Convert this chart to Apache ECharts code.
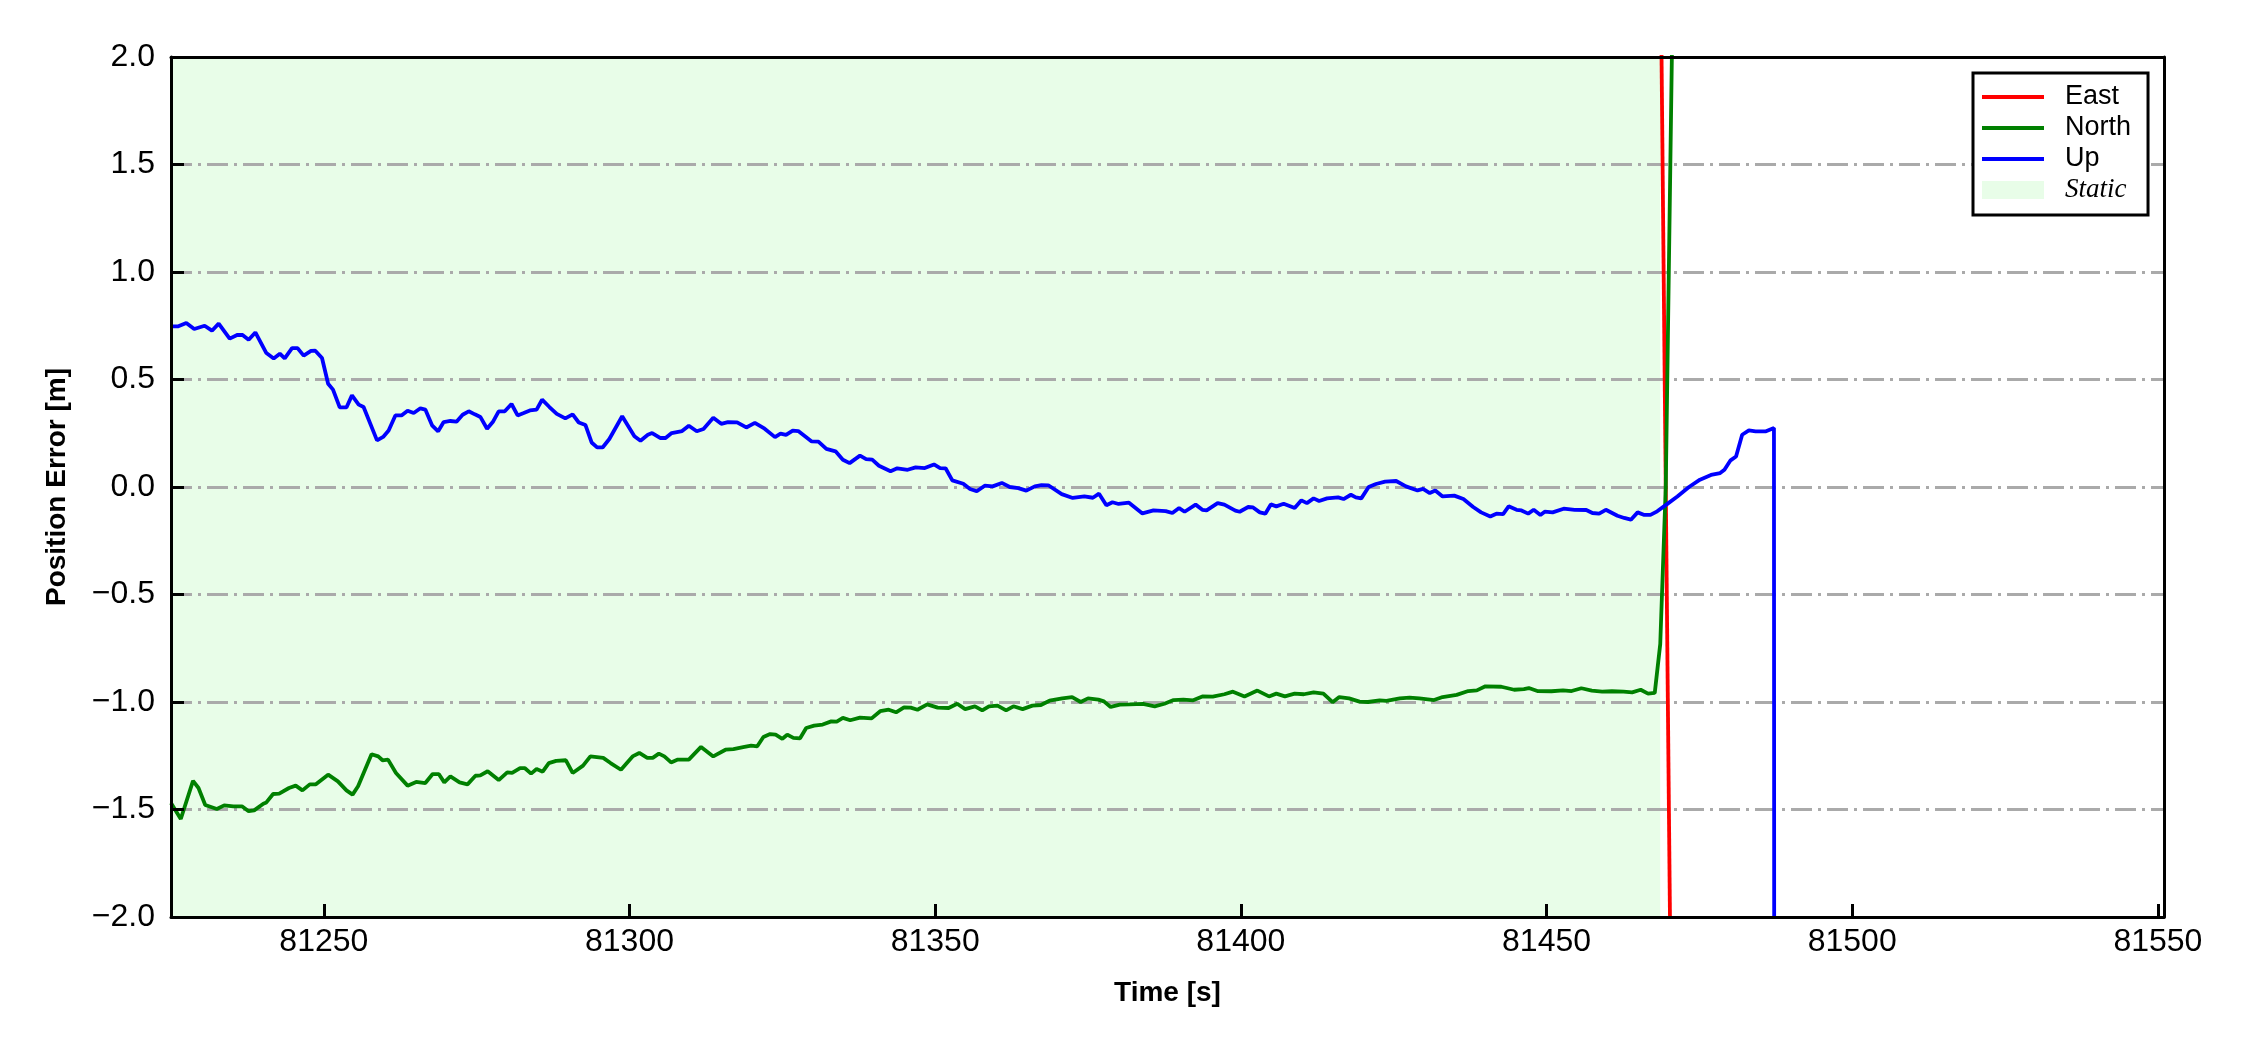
<!DOCTYPE html>
<html>
<head>
<meta charset="utf-8">
<script src="https://cdn.jsdelivr.net/npm/echarts@6/dist/echarts.min.js"></script>
<style>
html,body{margin:0;padding:0;background:#fff;}
#chart{width:2250px;height:1050px;}
</style>
</head>
<body>
<div id="chart"></div>
<script>
// ---------------- data ----------------
const xRange = [81225, 81551];
const yRange = [-2, 2];
const xTicks = [81250, 81300, 81350, 81400, 81450, 81500, 81550];
const staticRange = [81225, 81468.6];

const eastTime = [81468.5, 81470.5];
const eastError = [2.9, -2.9];

const northTime = [81225.0,81226.6,81228.6,81229.5,81230.6,81232.5,81233.7,81235.2,81236.6,81237.7,81238.6,81240.1,81240.6,81241.7,81242.7,81244.3,81245.4,81246.5,81247.7,81248.7,81250.7,81252.3,81253.7,81254.7,81255.6,81257.8,81258.9,81259.6,81260.5,81261.8,81263.7,81265.1,81266.6,81267.8,81268.8,81269.7,81270.7,81272.2,81273.5,81274.8,81275.6,81276.8,81278.6,81280.0,81280.8,81282.1,81282.9,81283.9,81284.8,81285.8,81286.8,81288.0,81289.6,81290.7,81292.4,81293.6,81295.7,81296.9,81298.6,81300.5,81301.6,81302.9,81303.8,81304.8,81305.7,81306.8,81307.9,81309.7,81311.7,81313.7,81315.7,81317.0,81318.8,81319.9,81320.9,81321.9,81323.0,81323.9,81325.0,81325.8,81326.8,81327.9,81328.9,81330.2,81331.6,81333.0,81333.9,81334.9,81336.1,81337.7,81339.6,81341.0,81342.4,81343.6,81344.9,81346.0,81347.1,81348.7,81350.4,81352.2,81353.6,81354.9,81356.5,81357.7,81358.8,81360.2,81361.6,81362.8,81364.3,81365.9,81367.3,81368.7,81370.8,81372.4,81373.8,81375.0,81376.7,81377.6,81378.7,81380.2,81381.8,81384.0,81385.9,81387.5,81389.0,81390.6,81392.2,81393.7,81395.4,81397.3,81398.7,81400.6,81402.7,81404.6,81405.8,81407.2,81408.8,81410.3,81411.9,81413.5,81415.0,81416.1,81417.7,81419.4,81420.8,81422.7,81423.8,81426.0,81427.6,81429.2,81431.6,81433.0,81435.3,81437.2,81438.6,81440.0,81442.6,81444.7,81446.3,81447.1,81448.5,81450.8,81452.7,81454.1,81455.7,81457.4,81459.1,81460.7,81462.6,81464.0,81465.4,81466.6,81467.7,81468.6,81469.5,81470.6,81471.5];
const northError = [-1.470,-1.544,-1.367,-1.400,-1.479,-1.498,-1.481,-1.485,-1.485,-1.508,-1.504,-1.473,-1.467,-1.428,-1.426,-1.400,-1.389,-1.411,-1.383,-1.383,-1.338,-1.369,-1.411,-1.431,-1.392,-1.243,-1.253,-1.271,-1.268,-1.330,-1.389,-1.372,-1.377,-1.335,-1.335,-1.374,-1.346,-1.374,-1.383,-1.343,-1.341,-1.322,-1.363,-1.327,-1.330,-1.308,-1.308,-1.333,-1.312,-1.324,-1.284,-1.274,-1.271,-1.330,-1.296,-1.253,-1.260,-1.284,-1.315,-1.253,-1.237,-1.260,-1.260,-1.240,-1.253,-1.281,-1.268,-1.268,-1.209,-1.253,-1.222,-1.219,-1.209,-1.203,-1.206,-1.163,-1.149,-1.152,-1.171,-1.152,-1.167,-1.169,-1.121,-1.110,-1.105,-1.090,-1.091,-1.074,-1.085,-1.073,-1.076,-1.043,-1.036,-1.048,-1.025,-1.026,-1.036,-1.011,-1.026,-1.028,-1.008,-1.033,-1.020,-1.039,-1.020,-1.017,-1.039,-1.020,-1.033,-1.017,-1.014,-0.994,-0.983,-0.977,-1.000,-0.983,-0.989,-0.997,-1.023,-1.012,-1.011,-1.009,-1.020,-1.008,-0.991,-0.989,-0.992,-0.974,-0.975,-0.964,-0.952,-0.974,-0.947,-0.974,-0.961,-0.974,-0.961,-0.964,-0.955,-0.961,-1.001,-0.977,-0.983,-0.998,-1.000,-0.992,-0.995,-0.983,-0.980,-0.983,-0.991,-0.977,-0.967,-0.949,-0.946,-0.927,-0.929,-0.943,-0.940,-0.935,-0.949,-0.950,-0.946,-0.949,-0.936,-0.947,-0.952,-0.950,-0.952,-0.955,-0.943,-0.961,-0.958,-0.730,0.000,2.200,4.000];

const upTime = [81225.0,81226.1,81227.5,81228.8,81230.5,81231.7,81232.8,81234.6,81235.9,81236.7,81237.7,81238.8,81240.6,81241.8,81242.8,81243.6,81244.8,81245.7,81246.7,81247.9,81248.6,81249.7,81250.7,81251.5,81252.6,81253.7,81254.6,81255.7,81256.5,81258.7,81259.7,81260.6,81261.7,81262.7,81263.7,81264.7,81265.8,81266.6,81267.7,81268.7,81269.6,81270.7,81271.7,81272.7,81273.7,81274.7,81275.6,81276.7,81277.7,81278.6,81279.6,81280.7,81281.7,81282.7,81283.7,81284.8,81285.7,81286.9,81288.1,81289.5,81290.7,81291.7,81292.8,81293.8,81294.7,81295.6,81296.7,81298.8,81300.8,81301.8,81303.0,81303.7,81305.0,81305.9,81306.9,81308.6,81309.7,81311.0,81312.1,81313.7,81315.0,81316.1,81317.6,81319.1,81320.5,81322.1,81323.8,81324.7,81325.6,81326.7,81327.6,81329.8,81330.9,81332.2,81333.7,81334.9,81336.0,81337.7,81338.7,81339.7,81340.8,81342.7,81343.8,81345.5,81346.8,81348.3,81349.8,81350.8,81351.7,81352.8,81354.6,81355.7,81356.8,81358.1,81359.4,81360.9,81362.2,81363.6,81364.9,81366.3,81367.4,81368.5,81370.7,81372.5,81374.4,81375.8,81376.8,81378.0,81379.0,81380.0,81381.7,81383.9,81385.7,81387.7,81388.8,81389.9,81390.8,81392.6,81393.7,81394.4,81396.2,81397.3,81399.1,81399.8,81401.2,81402.0,81403.1,81404.0,81404.9,81405.8,81407.0,81408.8,81409.9,81410.8,81411.9,81412.8,81414.1,81415.9,81416.8,81418.0,81418.8,81419.7,81420.9,81422.1,81423.6,81425.4,81427.0,81428.9,81429.8,81430.9,81431.8,81433.0,81434.9,81436.4,81438.0,81439.3,81440.8,81441.8,81442.9,81443.8,81445.1,81445.9,81447.0,81447.9,81449.0,81449.7,81451.0,81452.8,81454.6,81456.5,81457.5,81458.6,81459.7,81461.6,81462.7,81463.8,81464.9,81466.0,81467.0,81468.1,81469.6,81471.4,81473.3,81475.1,81476.9,81478.4,81479.1,81480.1,81481.0,81482.0,81483.1,81484.2,81485.9,81487.2,81487.3];
const upError = [0.747,0.747,0.763,0.735,0.750,0.727,0.760,0.690,0.708,0.707,0.685,0.719,0.623,0.598,0.620,0.598,0.646,0.646,0.611,0.633,0.634,0.600,0.480,0.453,0.370,0.370,0.426,0.383,0.372,0.217,0.233,0.263,0.333,0.333,0.355,0.344,0.366,0.360,0.287,0.259,0.302,0.307,0.304,0.336,0.352,0.338,0.326,0.271,0.305,0.352,0.352,0.386,0.333,0.344,0.356,0.360,0.406,0.372,0.340,0.319,0.338,0.300,0.288,0.207,0.184,0.184,0.223,0.329,0.236,0.215,0.243,0.251,0.228,0.228,0.251,0.260,0.285,0.259,0.270,0.322,0.294,0.302,0.301,0.277,0.298,0.271,0.232,0.248,0.242,0.262,0.260,0.212,0.211,0.177,0.166,0.127,0.111,0.146,0.130,0.127,0.099,0.073,0.087,0.080,0.091,0.088,0.105,0.088,0.087,0.031,0.015,-0.009,-0.020,0.006,0.003,0.019,0.000,-0.005,-0.017,0.003,0.009,0.008,-0.033,-0.051,-0.044,-0.050,-0.031,-0.085,-0.071,-0.079,-0.073,-0.123,-0.109,-0.112,-0.121,-0.098,-0.115,-0.082,-0.106,-0.109,-0.075,-0.082,-0.110,-0.115,-0.093,-0.095,-0.118,-0.124,-0.081,-0.090,-0.078,-0.098,-0.062,-0.075,-0.053,-0.065,-0.053,-0.048,-0.056,-0.036,-0.048,-0.053,0.000,0.014,0.025,0.028,0.003,-0.016,-0.009,-0.028,-0.016,-0.044,-0.040,-0.056,-0.093,-0.118,-0.137,-0.124,-0.126,-0.090,-0.106,-0.109,-0.124,-0.106,-0.130,-0.115,-0.118,-0.101,-0.106,-0.107,-0.121,-0.124,-0.106,-0.134,-0.144,-0.152,-0.118,-0.130,-0.130,-0.113,-0.082,-0.044,0.000,0.034,0.056,0.065,0.080,0.124,0.142,0.243,0.263,0.259,0.259,0.274,-6.000];

const seriesNames = ['East', 'North', 'Up', 'Static'];
const seriesColors = ['#ff0000', '#008000', '#0000ff', '#e8fde8'];

// ---------------- chart ----------------
const zip = (t, v) => t.map((x, i) => [x, v[i]]);
const FONT = '"Liberation Sans", Arial, Helvetica, sans-serif';
const minus = s => s.replace(/-/g, '\u2212');
const LINE_W = 3.8;

const frameLine = { show: true, onZero: false, lineStyle: { color: '#000', width: 3 } };
const tickStyle = { show: true, inside: true, length: 13, lineStyle: { color: '#000', width: 3 } };

const chart = echarts.init(document.getElementById('chart'), null, { renderer: 'canvas' });

const lineSeries = (idx, data) => ({
  name: seriesNames[idx],
  type: 'line',
  data: data,
  xAxisIndex: 0, yAxisIndex: 0,
  showSymbol: false, symbol: 'none',
  clip: true,
  z: 3,
  color: seriesColors[idx],
  lineStyle: { color: seriesColors[idx], width: LINE_W },
  emphasis: { disabled: true },
  animation: false
});

const lineIcon = 'path://M0,0 L62,0 L62,' + LINE_W + ' L0,' + LINE_W + ' Z';

chart.setOption({
  animation: false,
  backgroundColor: '#ffffff',
  grid: { left: 171, right: 86, top: 57, bottom: 133, containLabel: false },
  xAxis: [
    {
      type: 'value', position: 'bottom', min: xRange[0], max: xRange[1], z: 5,
      axisLine: frameLine,
      axisTick: Object.assign({ customValues: xTicks }, tickStyle),
      axisLabel: { customValues: xTicks, formatter: v => String(v), color: '#000', fontFamily: FONT, fontSize: 32, margin: 9 },
      splitLine: { show: false },
      name: 'Time [s]', nameLocation: 'middle', nameGap: 62,
      nameTextStyle: { color: '#000', fontFamily: FONT, fontSize: 28, fontWeight: 'bold' }
    },
    {
      type: 'value', position: 'top', min: xRange[0], max: xRange[1], z: 5,
      axisLine: frameLine, axisTick: { show: false }, axisLabel: { show: false }, splitLine: { show: false }
    }
  ],
  yAxis: [
    {
      type: 'value', position: 'left', min: yRange[0], max: yRange[1], interval: 0.5, z: 5,
      axisLine: frameLine,
      axisTick: tickStyle,
      axisLabel: { formatter: v => minus(v.toFixed(1)), color: '#000', fontFamily: FONT, fontSize: 32, margin: 16 },
      splitLine: { show: false },
      name: 'Position Error [m]', nameLocation: 'middle', nameGap: 100,
      nameTextStyle: { color: '#000', fontFamily: FONT, fontSize: 28, fontWeight: 'bold' }
    },
    {
      type: 'value', position: 'right', min: yRange[0], max: yRange[1], interval: 0.5, z: 5,
      axisLine: frameLine, axisTick: { show: false }, axisLabel: { show: false }, splitLine: { show: false }
    },
    {
      type: 'value', position: 'right', min: yRange[0], max: yRange[1], interval: 0.5, z: 2.5,
      axisLine: { show: false }, axisTick: { show: false }, axisLabel: { show: false },
      splitLine: { show: true, lineStyle: { color: '#aaaaaa', width: 3, type: [21, 6, 3, 6] } }
    }
  ],
  legend: {
    orient: 'vertical',
    left: 1973, top: 73,
    padding: [10, 17, 11, 9],
    itemWidth: 62, itemHeight: 18, itemGap: 3,
    backgroundColor: '#ffffff',
    borderColor: '#000', borderWidth: 3, borderRadius: 0,
    selectedMode: false,
    z: 8,
    textStyle: { color: '#000', fontFamily: FONT, fontSize: 27, lineHeight: 28, padding: [0, 0, 0, 16] },
    data: [
      { name: seriesNames[0], icon: lineIcon, itemStyle: { color: seriesColors[0] } },
      { name: seriesNames[1], icon: lineIcon, itemStyle: { color: seriesColors[1] } },
      { name: seriesNames[2], icon: lineIcon, itemStyle: { color: seriesColors[2] } },
      { name: seriesNames[3], icon: 'rect', itemStyle: { color: seriesColors[3] },
        textStyle: { fontFamily: '"Liberation Serif", "Times New Roman", serif', fontStyle: 'italic', fontSize: 27, color: '#000' } }
    ]
  },
  series: [
    {
      name: seriesNames[3], type: 'line', data: [], xAxisIndex: 0, yAxisIndex: 0,
      z: 1, color: seriesColors[3], itemStyle: { color: seriesColors[3] }, lineStyle: { width: 0 },
      showSymbol: false, symbol: 'none', silent: true,
      markArea: {
        silent: true, z: 1,
        itemStyle: { color: seriesColors[3], opacity: 1 },
        label: { show: false },
        data: [[{ xAxis: staticRange[0] }, { xAxis: staticRange[1] }]]
      }
    },
    lineSeries(0, zip(eastTime, eastError)),
    lineSeries(1, zip(northTime, northError)),
    lineSeries(2, zip(upTime, upError))
  ]
});
</script>
</body>
</html>
